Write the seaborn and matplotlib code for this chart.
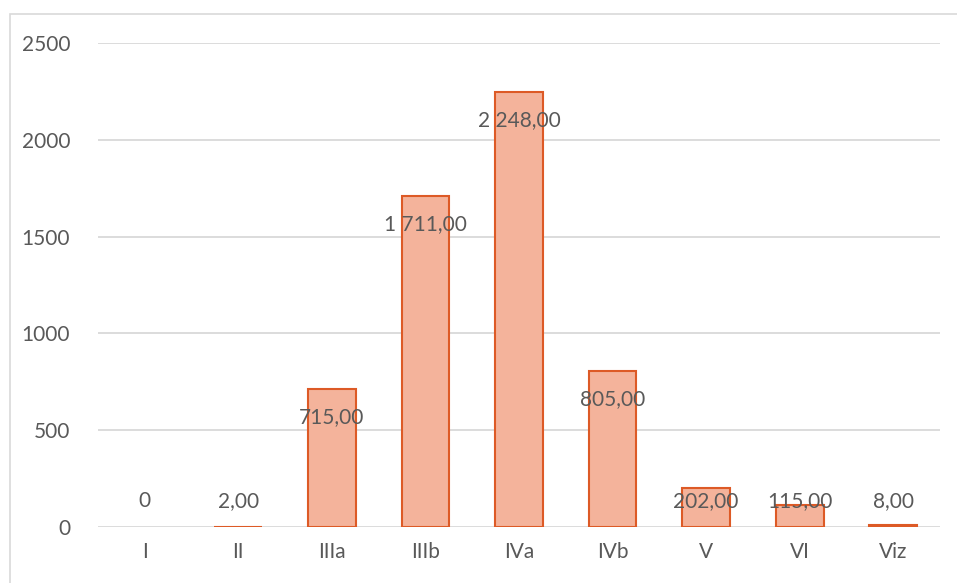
import matplotlib
matplotlib.use("Agg")
import matplotlib.pyplot as plt
import seaborn as sns
from matplotlib.patches import Rectangle

# --- data ---
categories = ["I", "II", "IIIa", "IIIb", "IVa", "IVb", "V", "VI", "Viz"]
values = [0, 2, 715, 1711, 2248, 805, 202, 115, 8]
value_labels = ["0", "2,00", "715,00", "1 711,00", "2 248,00", "805,00", "202,00", "115,00", "8,00"]
y_ticks = [0, 500, 1000, 1500, 2000, 2500]

fill_color = "#F4B39B"
edge_color = "#DD5A26"
text_color = "#595959"
grid_color = "#D9D9D9"

sns.set_style("white")
plt.rcParams["font.family"] = ["Lato", "DejaVu Sans"]

fig = plt.figure(figsize=(9.57, 5.83), dpi=100)
ax = fig.add_axes([98 / 957, 1 - 527 / 583, (940 - 98) / 957, (527 - 43) / 583])

sns.barplot(x=categories, y=values, color=fill_color, edgecolor=edge_color,
            linewidth=1.5, width=0.51, saturation=1, ax=ax, zorder=3)

# empty bars get no outline
for bar in ax.patches:
    if bar.get_height() == 0:
        bar.set_linewidth(0)

ax.set_ylim(0, 2500)
ax.set_xlim(-0.5, len(categories) - 0.5)
ax.set_yticks(y_ticks)
ax.yaxis.grid(True, color=grid_color, linewidth=1.3, zorder=0)
ax.xaxis.grid(False)
for s in ax.spines.values():
    s.set_visible(False)
ax.tick_params(axis="both", length=0, labelsize=15, labelcolor=text_color)
ax.tick_params(axis="y", pad=20)
ax.tick_params(axis="x", pad=11)
ax.set_xlabel("")
ax.set_ylabel("")

# data labels ("inside end"; pushed up when the bar is too short)
for i, (v, lab) in enumerate(zip(values, value_labels)):
    y = max(v - 145, 134)
    ax.text(i, y, lab, ha="center", va="center", fontsize=15,
            color=text_color, zorder=4)

# chart area border
fig.patches.append(Rectangle((10 / 957, -0.1), 1.2, 1 - 14 / 583 + 0.1,
                             transform=fig.transFigure, fill=False,
                             edgecolor=grid_color, linewidth=1.2))

fig.savefig("out.png", dpi=100)
plt.close(fig)
